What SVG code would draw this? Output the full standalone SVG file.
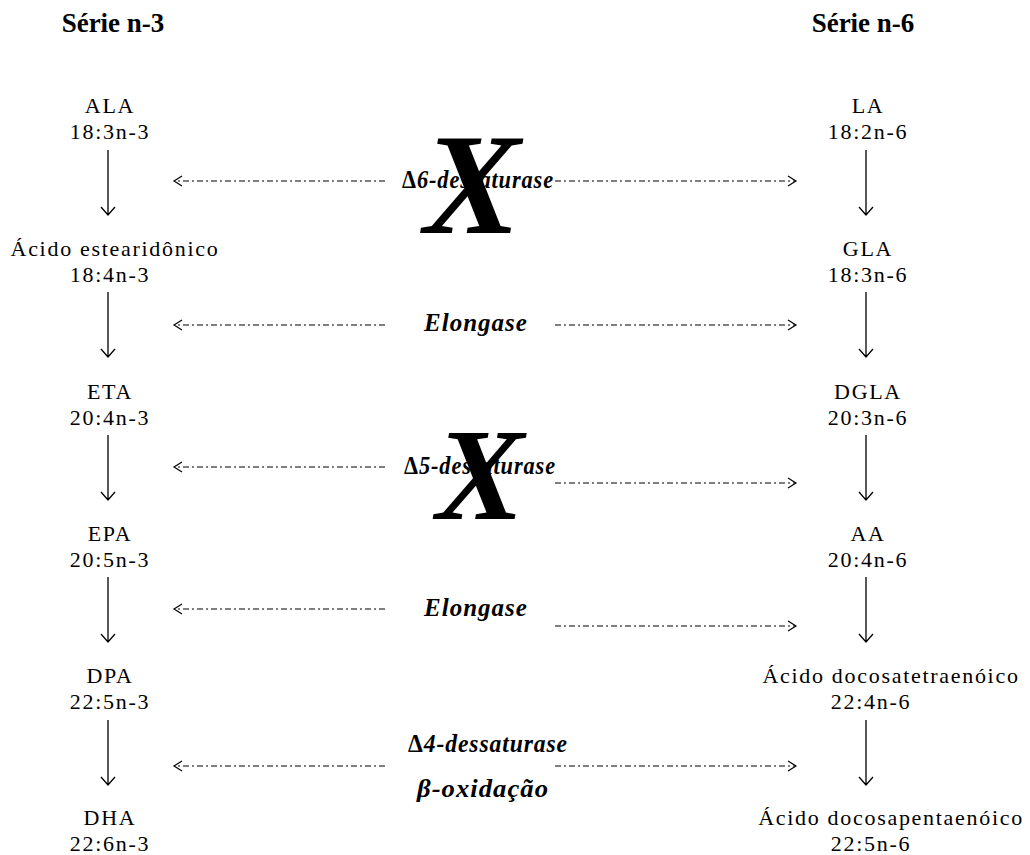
<svg xmlns="http://www.w3.org/2000/svg" width="1030" height="855" viewBox="0 0 1030 855">
<style>
.t{font-family:"Liberation Serif","Times New Roman",serif;font-size:22px;letter-spacing:1.7px;fill:#000;text-anchor:middle}
.h{font-family:"Liberation Serif","Times New Roman",serif;font-size:27px;font-weight:bold;fill:#000;text-anchor:middle}
.e{font-family:"Liberation Serif","Times New Roman",serif;font-size:25px;font-weight:bold;font-style:italic;letter-spacing:1px;fill:#000;text-anchor:middle}
.g{font-style:normal}
.x{font-family:"Liberation Serif","Times New Roman",serif;font-weight:bold;font-style:italic;fill:#000;text-anchor:middle}
.v{stroke:#000;stroke-width:1.3;fill:none}
.d{stroke:#000;stroke-width:1.2;fill:none;stroke-dasharray:6 3 2 3}
.ah{stroke:#000;stroke-width:1.2;fill:none}
</style>
<rect width="1030" height="855" fill="#fff"/>
<g id="titles">
<text class="h" x="113" y="32">Série n-3</text>
<text class="h" x="863" y="32">Série n-6</text>
</g>
<g id="ala"><text class="t" x="110" y="113">ALA</text><text class="t" x="110" y="139">18:3n-3</text></g>
<g id="sda"><text class="t" x="115" y="256">Ácido estearidônico</text><text class="t" x="110" y="282">18:4n-3</text></g>
<g id="eta"><text class="t" x="110" y="399">ETA</text><text class="t" x="110" y="425">20:4n-3</text></g>
<g id="epa"><text class="t" x="110" y="541">EPA</text><text class="t" x="110" y="567">20:5n-3</text></g>
<g id="dpa"><text class="t" x="110" y="683">DPA</text><text class="t" x="110" y="709">22:5n-3</text></g>
<g id="dha"><text class="t" x="110" y="825">DHA</text><text class="t" x="110" y="851">22:6n-3</text></g>
<g id="la"><text class="t" x="868" y="113">LA</text><text class="t" x="868" y="139">18:2n-6</text></g>
<g id="gla"><text class="t" x="868" y="256">GLA</text><text class="t" x="868" y="282">18:3n-6</text></g>
<g id="dgla"><text class="t" x="868" y="399">DGLA</text><text class="t" x="868" y="425">20:3n-6</text></g>
<g id="aa"><text class="t" x="868" y="541">AA</text><text class="t" x="868" y="567">20:4n-6</text></g>
<g id="dta"><text class="t" x="891" y="683">Ácido docosatetraenóico</text><text class="t" x="871" y="709">22:4n-6</text></g>
<g id="dpa6"><text class="t" x="891" y="825">Ácido docosapentaenóico</text><text class="t" x="871" y="851">22:5n-6</text></g>
<g id="connectors">
<path class="v" d="M108 150V215M101 207L108 215L115 207"/>
<path class="v" d="M108 292V357M101 349L108 357L115 349"/>
<path class="v" d="M108 435V500M101 492L108 500L115 492"/>
<path class="v" d="M108 577V642M101 634L108 642L115 634"/>
<path class="v" d="M108 720V785M101 777L108 785L115 777"/>
<path class="v" d="M866 150V215M859 207L866 215L873 207"/>
<path class="v" d="M866 292V357M859 349L866 357L873 349"/>
<path class="v" d="M866 435V500M859 492L866 500L873 492"/>
<path class="v" d="M866 577V642M859 634L866 642L873 634"/>
<path class="v" d="M866 720V785M859 777L866 785L873 777"/>
<path class="d" d="M385 181H175"/><path class="ah" d="M182 176L174 181L182 186"/>
<path class="d" d="M555 181H795"/><path class="ah" d="M788 176L796 181L788 186"/>
<path class="d" d="M385 325H175"/><path class="ah" d="M182 320L174 325L182 330"/>
<path class="d" d="M555 325H795"/><path class="ah" d="M788 320L796 325L788 330"/>
<path class="d" d="M385 467H175"/><path class="ah" d="M182 462L174 467L182 472"/>
<path class="d" d="M555 483H795"/><path class="ah" d="M788 478L796 483L788 488"/>
<path class="d" d="M385 609H175"/><path class="ah" d="M182 604L174 609L182 614"/>
<path class="d" d="M555 626H795"/><path class="ah" d="M788 621L796 626L788 631"/>
<path class="d" d="M385 766H175"/><path class="ah" d="M182 761L174 766L182 771"/>
<path class="d" d="M555 766H795"/><path class="ah" d="M788 761L796 766L788 771"/>
</g>
<g id="enzymes">
<text class="e" x="478" y="188" textLength="152" lengthAdjust="spacingAndGlyphs"><tspan class="g">Δ</tspan>6-dessaturase</text>
<text class="e" x="476" y="331">Elongase</text>
<text class="e" x="480" y="474" textLength="152" lengthAdjust="spacingAndGlyphs"><tspan class="g">Δ</tspan>5-dessaturase</text>
<text class="e" x="476" y="616">Elongase</text>
<text class="e" x="488" y="752" textLength="160" lengthAdjust="spacingAndGlyphs" style="font-size:26px"><tspan class="g">Δ</tspan>4-dessaturase</text>
<text class="e" x="483" y="797" textLength="132" lengthAdjust="spacingAndGlyphs" style="font-size:26px">β-oxidação</text>
</g>
<g id="inhibitions">
<text class="x" x="472" y="233" font-size="145">X</text>
<text class="x" x="480" y="519" font-size="132">X</text>
</g>
</svg>
